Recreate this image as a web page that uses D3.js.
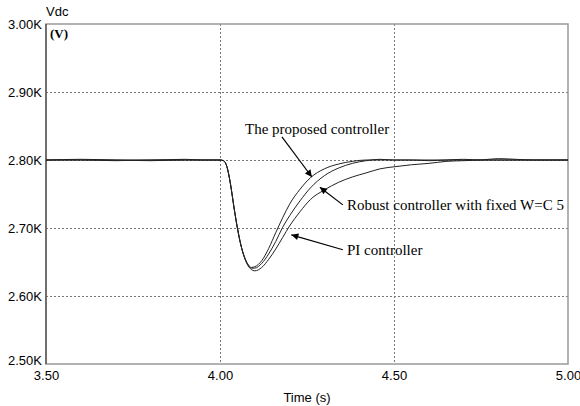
<!DOCTYPE html>
<html>
<head>
<meta charset="utf-8">
<script src="https://cdnjs.cloudflare.com/ajax/libs/d3/7.8.5/d3.min.js"></script>
<style>
body { margin: 0; background: #fff; }
svg { display: block; }
</style>
</head>
<body>
<div class="chart"></div>
<script>
// time samples (s) and Vdc (kV)
const time = [3.50, 3.60, 3.70, 3.80, 3.90, 3.95, 4.00, 4.01, 4.02, 4.03, 4.04, 4.05, 4.06, 4.07, 4.08, 4.09, 4.10,
    4.12, 4.14, 4.16, 4.18, 4.20, 4.23, 4.26, 4.30, 4.34, 4.38, 4.42, 4.46, 4.50, 4.55, 4.60, 4.65, 4.70, 4.75,
    4.80, 4.85, 4.90, 4.95, 5.00];
const proposed = [2.800, 2.800, 2.799, 2.800, 2.800, 2.800, 2.800, 2.799, 2.790, 2.765, 2.731, 2.700, 2.675, 2.658, 2.647, 2.642, 2.643,
    2.652, 2.670, 2.693, 2.715, 2.735, 2.757, 2.774, 2.787, 2.794, 2.798, 2.800, 2.800, 2.800, 2.800, 2.800, 2.800, 2.800, 2.800,
    2.800, 2.800, 2.800, 2.800, 2.800];
const robust = [2.800, 2.801, 2.800, 2.799, 2.800, 2.800, 2.800, 2.799, 2.790, 2.765, 2.731, 2.700, 2.675, 2.657, 2.646, 2.641, 2.641,
    2.648, 2.662, 2.680, 2.701, 2.718, 2.740, 2.759, 2.777, 2.788, 2.795, 2.799, 2.801, 2.800, 2.800, 2.799, 2.800, 2.801, 2.800,
    2.800, 2.800, 2.800, 2.800, 2.800];
const pi = [2.800, 2.800, 2.800, 2.800, 2.801, 2.800, 2.800, 2.799, 2.790, 2.765, 2.731, 2.700, 2.675, 2.657, 2.645, 2.639, 2.637,
    2.642, 2.654, 2.669, 2.686, 2.703, 2.724, 2.742, 2.756, 2.767, 2.775, 2.781, 2.787, 2.790, 2.793, 2.795, 2.798, 2.799, 2.800,
    2.802, 2.801, 2.800, 2.800, 2.800];

const xTicks = [3.5, 4.0, 4.5, 5.0];
const yTicks = [2.5, 2.6, 2.7, 2.8, 2.9, 3.0];

// annotations: label, text position, arrow start, arrow tip (in data units)
const notes = [
    {label: "The proposed controller", tx: 4.072, ty: 2.838, x1: 4.178, y1: 2.834, x2: 4.264, y2: 2.775},
    {label: "Robust controller with fixed W=C 5", tx: 4.365, ty: 2.727, x1: 4.353, y1: 2.734, x2: 4.287, y2: 2.760},
    {label: "PI controller", tx: 4.365, ty: 2.661, x1: 4.353, y1: 2.668, x2: 4.205, y2: 2.690}
];

const margin = {top: 24, left: 46, right: 12, bottom: 42};
const width = 580 - margin.left - margin.right;
const height = 406 - margin.top - margin.bottom;

const svg = d3.select(".chart").append("svg")
    .attr("width", 580)
    .attr("height", 406)
    .append("g")
    .attr("transform", "translate(" + margin.left + "," + margin.top + ")");

const xScale = d3.scaleLinear().domain([3.5, 5.0]).range([0, width]);
const yScale = d3.scaleLinear().domain([2.5, 3.0]).range([height, 0]);

// grid
svg.append("g").selectAll("line")
    .data(yTicks.slice(1, -1))
    .join("line")
    .attr("x1", 0).attr("x2", width)
    .attr("y1", d => yScale(d)).attr("y2", d => yScale(d))
    .attr("stroke", "#777").attr("stroke-width", 1)
    .attr("stroke-dasharray", "2,2")
    .attr("shape-rendering", "crispEdges");

svg.append("g").selectAll("line")
    .data(xTicks.slice(1, -1))
    .join("line")
    .attr("x1", d => xScale(d)).attr("x2", d => xScale(d))
    .attr("y1", 0).attr("y2", height)
    .attr("stroke", "#777").attr("stroke-width", 1)
    .attr("stroke-dasharray", "2,2")
    .attr("shape-rendering", "crispEdges");

// axes
const xAxis = d3.axisBottom(xScale).tickValues(xTicks).tickSize(0).tickPadding(7)
    .tickFormat(d3.format(".2f"));
const yAxis = d3.axisLeft(yScale).tickValues(yTicks).tickSize(0).tickPadding(4)
    .tickFormat(d => d3.format(".2f")(d) + "K");

svg.append("g")
    .attr("class", "axis x-axis")
    .attr("transform", `translate(0, ${height})`)
    .call(xAxis);

svg.append("g")
    .attr("class", "axis y-axis")
    .call(yAxis);

svg.selectAll(".axis path").remove();
svg.selectAll(".axis text")
    .attr("font-family", "Arial, 'Liberation Sans', sans-serif")
    .attr("font-size", 13)
    .attr("fill", "#000");

// lift the bottom y label a little so it clears the 3.50 label
svg.selectAll(".y-axis .tick text")
    .filter(d => d === 2.5)
    .attr("dy", "0.05em");

// frame
svg.append("rect")
    .attr("x", 0).attr("y", 0)
    .attr("width", width).attr("height", height)
    .attr("fill", "none")
    .attr("stroke", "#999")
    .attr("stroke-width", 1.5);

svg.append("line")
    .attr("x1", 0).attr("x2", 0)
    .attr("y1", 0).attr("y2", height)
    .attr("stroke", "#444").attr("stroke-width", 1.2);

// curves
const line = d3.line()
    .x((d, i) => xScale(time[i]))
    .y(d => yScale(d))
    .curve(d3.curveMonotoneX);

[pi, robust, proposed].forEach(s => {
    svg.append("path")
        .datum(s)
        .attr("d", line)
        .attr("fill", "none")
        .attr("stroke", "#222")
        .attr("stroke-width", 1);
});

// arrowhead
svg.append("defs").append("marker")
    .attr("id", "arrow")
    .attr("viewBox", "0 0 10 10")
    .attr("refX", 10).attr("refY", 5)
    .attr("markerWidth", 10).attr("markerHeight", 7)
    .attr("markerUnits", "userSpaceOnUse")
    .attr("orient", "auto")
    .append("path")
    .attr("d", "M0,0 L10,5 L0,10 Z")
    .attr("fill", "#000");

notes.forEach(n => {
    svg.append("line")
        .attr("x1", xScale(n.x1)).attr("y1", yScale(n.y1))
        .attr("x2", xScale(n.x2)).attr("y2", yScale(n.y2))
        .attr("stroke", "#000").attr("stroke-width", 1.2)
        .attr("marker-end", "url(#arrow)");
    svg.append("text")
        .attr("x", xScale(n.tx)).attr("y", yScale(n.ty))
        .attr("font-family", "'Liberation Serif', 'Times New Roman', serif")
        .attr("font-size", 15)
        .attr("fill", "#000")
        .text(n.label);
});

// labels
svg.append("text")
    .attr("x", 0).attr("y", -8)
    .attr("font-family", "Arial, 'Liberation Sans', sans-serif")
    .attr("font-size", 13)
    .text("Vdc");

svg.append("text")
    .attr("x", 4).attr("y", 14)
    .attr("font-family", "'Liberation Serif', 'Times New Roman', serif")
    .attr("font-size", 13)
    .attr("font-weight", 700)
    .text("(V)");

svg.append("text")
    .attr("x", width / 2).attr("y", height + 38)
    .attr("text-anchor", "middle")
    .attr("font-family", "Arial, 'Liberation Sans', sans-serif")
    .attr("font-size", 13)
    .text("Time (s)");
</script>
</body>
</html>
